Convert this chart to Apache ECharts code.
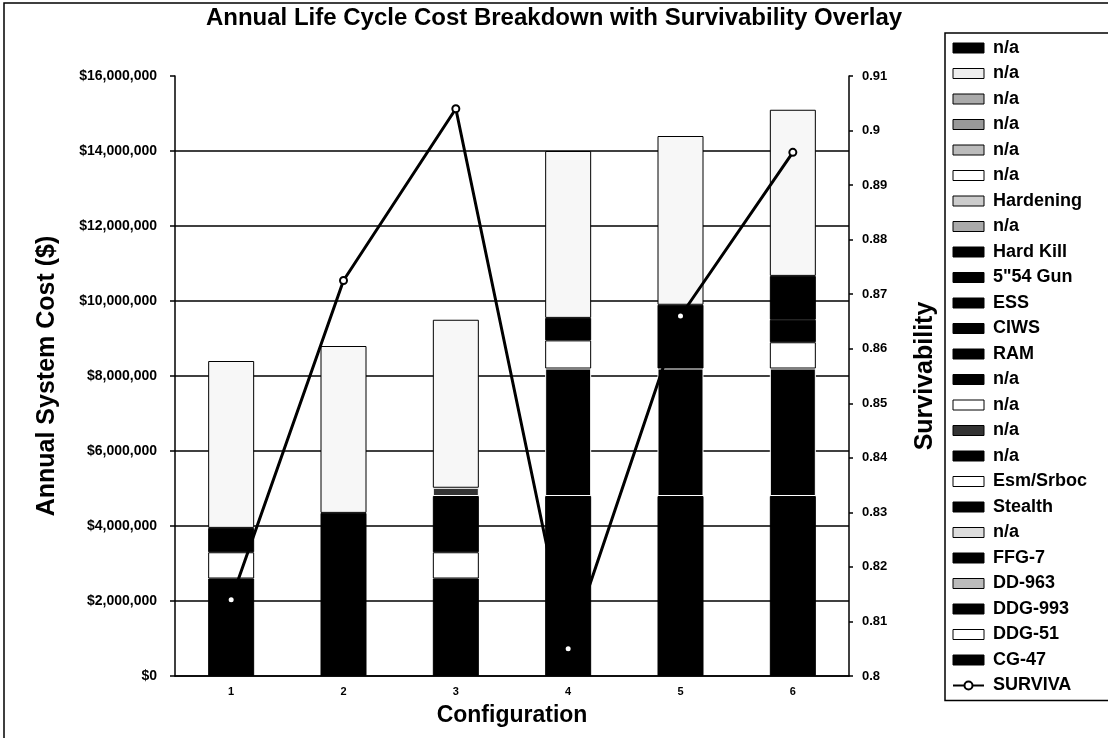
<!DOCTYPE html>
<html>
<head>
<meta charset="utf-8">
<title>Annual Life Cycle Cost Breakdown</title>
<script src="https://cdn.jsdelivr.net/npm/echarts@6/dist/echarts.min.js"></script>
<style>
    html, body { margin: 0; padding: 0; background: #fff; }
    #chartmain { width: 1108px; height: 738px; }
</style>
</head>
<body>
<div id="chartmain"></div>
<script>
// configurations on the x axis
var categories = ['1', '2', '3', '4', '5', '6'];

// survivability (right axis)
var survivability = [0.814, 0.8725, 0.904, 0.805, 0.866, 0.896];

// annual cost per component ($)
var none = [null, null, null, null, null, null];
var cg47 = [null, null, null, 4800000, 4800000, 4800000];
var ddg993 = [2600000, 4350000, 2600000, null, null, null];
var stealth = [null, null, null, 3400000, 3400000, 3400000];
var esmSrboc = [700000, null, 700000, 750000, null, 700000];
var na17 = [null, null, 1500000, null, null, null];
var na16 = [null, null, 220000, null, null, null];
var ram = [650000, null, null, 600000, 1700000, 600000];
var ciws = [null, null, null, null, null, 1170000];
var hardening = [4450000, 4450000, 4480000, 4450000, 4500000, 4430000];

// y axis ticks
var costMin = 0, costMax = 16000000, costStep = 2000000;
var survMin = 0.8, survMax = 0.91, survStep = 0.01;

var FONT = '"Liberation Sans", Arial, sans-serif';

initChart();

function initChart() {
    // stack order, bottom first: [name, values, bar fill, legend icon fill, border]
    var stackList = [
        ['CG-47', cg47, '#000', '#000', '#000'],
        ['DDG-51', none, '#fff', '#fff', '#000'],
        ['DDG-993', ddg993, '#000', '#000', '#000'],
        ['DD-963', none, '#bbb', '#bbb', '#000'],
        ['FFG-7', none, '#000', '#000', '#000'],
        ['n/a#20', none, '#ddd', '#ddd', '#000'],
        ['Stealth', stealth, '#000', '#000', '#fff'],
        ['Esm/Srboc', esmSrboc, '#fff', '#fff', '#000'],
        ['n/a#17', na17, '#000', '#000', '#000'],
        ['n/a#16', na16, '#333', '#333', '#fff'],
        ['n/a#15', none, '#fff', '#fff', '#000'],
        ['n/a#14', none, '#000', '#000', '#000'],
        ['RAM', ram, '#000', '#000', '#000'],
        ['CIWS', ciws, '#000', '#000', '#000'],
        ['ESS', none, '#000', '#000', '#000'],
        ['5"54 Gun', none, '#000', '#000', '#000'],
        ['Hard Kill', none, '#000', '#000', '#000'],
        ['n/a#8', none, '#aaa', '#aaa', '#000'],
        ['Hardening', hardening, '#f7f7f7', '#ccc', '#000'],
        ['n/a#6', none, '#fff', '#fff', '#000'],
        ['n/a#5', none, '#bbb', '#bbb', '#000'],
        ['n/a#4', none, '#999', '#999', '#000'],
        ['n/a#3', none, '#aaa', '#aaa', '#000'],
        ['n/a#2', none, '#eee', '#eee', '#000'],
        ['n/a#1', none, '#000', '#000', '#000']
    ];

    var series = [];
    var legendData = [];
    for (var i = 0; i < stackList.length; i++) {
        var s = stackList[i];
        series.push({
            name: s[0],
            type: 'bar',
            stack: 'cost',
            barWidth: 46,
            data: s[1],
            itemStyle: {color: s[2], borderColor: s[4], borderWidth: 1}
        });
    }
    // legend lists the stack top first
    for (var j = stackList.length - 1; j >= 0; j--) {
        legendData.push({
            name: stackList[j][0],
            icon: 'rect',
            itemStyle: {color: stackList[j][3], borderColor: '#000', borderWidth: 1}
        });
    }

    series.push({
        name: 'SURVIVA',
        type: 'line',
        yAxisIndex: 1,
        data: survivability,
        symbol: 'emptyCircle',
        symbolSize: 7,
        z: 10,
        lineStyle: {color: '#000', width: 3},
        itemStyle: {color: '#000', borderColor: '#000', borderWidth: 1.5}
    });
    legendData.push({name: 'SURVIVA'});

    var option = {
        animation: false,
        textStyle: {fontFamily: FONT, color: '#000'},
        title: {
            text: 'Annual Life Cycle Cost Breakdown with Survivability Overlay',
            left: 'center',
            top: 1,
            textStyle: {fontFamily: FONT, fontSize: 24, fontWeight: 'bold', color: '#000'}
        },
        graphic: [{
            type: 'rect',
            shape: {x: 4, y: 3, width: 1200, height: 800},
            style: {fill: 'none', stroke: '#000', lineWidth: 1.5},
            silent: true
        }],
        legend: {
            orient: 'vertical',
            left: 945,
            top: 33,
            padding: [6, 30, 6, 7],
            itemGap: 7.5,
            itemWidth: 31,
            itemHeight: 10,
            borderColor: '#000',
            borderWidth: 1.5,
            textStyle: {fontFamily: FONT, fontSize: 18, fontWeight: 'bold', lineHeight: 18, color: '#000', padding: [0, 0, 0, 4]},
            formatter: function (name) {
                return name.indexOf('n/a') === 0 ? 'n/a' : name;
            },
            data: legendData
        },
        grid: {left: 175, right: 259, top: 76, bottom: 62},
        xAxis: {
            type: 'category',
            data: categories,
            name: 'Configuration',
            nameLocation: 'middle',
            nameGap: 28,
            nameTextStyle: {fontFamily: FONT, fontSize: 23, fontWeight: 'bold', color: '#000'},
            axisLine: {lineStyle: {color: '#000', width: 1.5}},
            axisTick: {length: 4, lineStyle: {color: '#000', width: 1.5}},
            axisLabel: {fontSize: 11, fontWeight: 'bold', color: '#000', margin: 10}
        },
        yAxis: [{
            type: 'value',
            min: costMin,
            max: costMax,
            interval: costStep,
            name: 'Annual System Cost ($)',
            nameLocation: 'middle',
            nameRotate: 90,
            nameGap: 115,
            nameTextStyle: {fontFamily: FONT, fontSize: 25, fontWeight: 'bold', color: '#000'},
            axisLine: {show: true, lineStyle: {color: '#000', width: 1.5}},
            axisTick: {show: true, length: 5, lineStyle: {color: '#000', width: 1.5}},
            axisLabel: {
                fontSize: 14,
                fontWeight: 'bold',
                color: '#000',
                margin: 18,
                formatter: function (v) {
                    return '$' + v.toLocaleString('en-US');
                }
            },
            splitLine: {show: true, showMaxLine: false, lineStyle: {color: '#000', width: 1.6}}
        }, {
            type: 'value',
            position: 'right',
            min: survMin,
            max: survMax,
            interval: survStep,
            name: 'Survivability',
            nameLocation: 'middle',
            nameRotate: 90,
            nameGap: 64,
            nameTextStyle: {fontFamily: FONT, fontSize: 25, fontWeight: 'bold', color: '#000'},
            axisLine: {show: true, lineStyle: {color: '#000', width: 1.5}},
            axisTick: {show: true, length: 4, lineStyle: {color: '#000', width: 1.5}},
            axisLabel: {
                fontSize: 13,
                fontWeight: 'bold',
                color: '#000',
                margin: 13,
                formatter: function (v) {
                    return String(parseFloat(v.toFixed(2)));
                }
            },
            splitLine: {show: false}
        }],
        series: series
    };

    var myChart = echarts.init(document.getElementById('chartmain'));
    myChart.setOption(option);
}
</script>
</body>
</html>
